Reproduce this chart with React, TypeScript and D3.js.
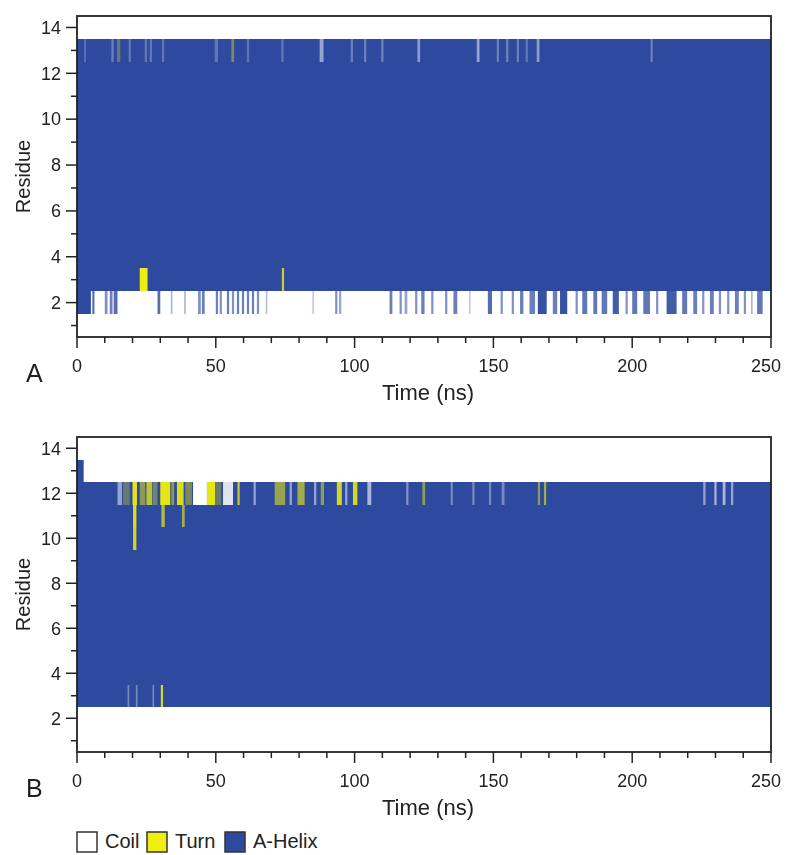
import * as d3 from 'd3';

// secondary structure codes: C = coil, T = turn, H = alpha helix
const residues = [1, 2, 3, 4, 5, 6, 7, 8, 9, 10, 11, 12, 13, 14];
const timeTicks = [0, 50, 100, 150, 200, 250];
const timeMinorTicks = [10, 20, 30, 40, 60, 70, 80, 90, 110, 120, 130, 140, 160, 170, 180, 190, 210, 220, 230, 240];
const residueTicks = [2, 4, 6, 8, 10, 12, 14];
const residueMinorTicks = [1, 3, 5, 7, 9, 11, 13];

const legendLabels = ['Coil', 'Turn', 'A-Helix'];
const legendStates = ['C', 'T', 'H'];

// dominant state of each residue (1..14) over the run
const baseStateA = ['C', 'C', 'H', 'H', 'H', 'H', 'H', 'H', 'H', 'H', 'H', 'H', 'H', 'C'];
const baseStateB = ['C', 'C', 'H', 'H', 'H', 'H', 'H', 'H', 'H', 'H', 'H', 'H', 'C', 'C'];

// [residue, start ns, end ns, state, fraction of frames]
type Stripe = [number, number, number, string, number];

const stripesA: Stripe[] = [
    [2, 0, 5, 'H', 1], [2, 5.5, 6.3, 'H', 0.8], [2, 10, 11, 'H', 0.6], [2, 11.8, 12.8, 'H', 0.7],
    [2, 13.2, 14.6, 'H', 0.8], [2, 29, 30, 'H', 0.8], [2, 33.8, 34.4, 'H', 0.4], [2, 38.6, 39.2, 'H', 0.4],
    [2, 43.6, 44.6, 'H', 0.6], [2, 45, 46, 'H', 0.7], [2, 50, 50.8, 'H', 0.7], [2, 51.4, 52.2, 'H', 0.6],
    [2, 54, 54.8, 'H', 0.7], [2, 55.8, 56.6, 'H', 0.6], [2, 57.6, 58.4, 'H', 0.7], [2, 59.4, 60.2, 'H', 0.7],
    [2, 61.2, 62, 'H', 0.7], [2, 63, 63.8, 'H', 0.7], [2, 64.8, 65.6, 'H', 0.6], [2, 68, 68.6, 'H', 0.35],
    [2, 84.8, 85.4, 'H', 0.3], [2, 93, 93.8, 'H', 0.6], [2, 94.4, 95.2, 'H', 0.5], [2, 112.6, 113.6, 'H', 0.7],
    [2, 116.2, 117, 'H', 0.6], [2, 118, 119, 'H', 0.5], [2, 121.8, 122.6, 'H', 0.6], [2, 124, 125.2, 'H', 0.7],
    [2, 127.6, 128.4, 'H', 0.6], [2, 132.6, 133.4, 'H', 0.6], [2, 135.6, 137, 'H', 0.7], [2, 141.2, 141.8, 'H', 0.3],
    [2, 148, 149.5, 'H', 0.8], [2, 152.6, 153.4, 'H', 0.6], [2, 156.6, 157.4, 'H', 0.6], [2, 159.6, 160.8, 'H', 0.7],
    [2, 163, 165, 'H', 0.7], [2, 166, 169.2, 'H', 0.95], [2, 171.4, 173, 'H', 0.7], [2, 174, 176.6, 'H', 0.95],
    [2, 179.6, 180.4, 'H', 0.6], [2, 182, 183.8, 'H', 0.75], [2, 186, 187.4, 'H', 0.75], [2, 189, 191, 'H', 0.75],
    [2, 193, 195.2, 'H', 0.9], [2, 197.6, 198.4, 'H', 0.6], [2, 200, 201.8, 'H', 0.75], [2, 204, 206.4, 'H', 0.75],
    [2, 208.6, 209.4, 'H', 0.6], [2, 212.4, 216, 'H', 0.9], [2, 218, 219.8, 'H', 0.75], [2, 222, 223.4, 'H', 0.7],
    [2, 225.2, 226, 'H', 0.6], [2, 228, 229.4, 'H', 0.7], [2, 231.2, 232, 'H', 0.6], [2, 234.2, 235, 'H', 0.6],
    [2, 237, 238.4, 'H', 0.7], [2, 240.2, 241, 'H', 0.6], [2, 242.8, 243.4, 'H', 0.4], [2, 245, 247, 'H', 0.75],
    [3, 22.6, 25.4, 'T', 1], [3, 73.8, 74.6, 'T', 0.8],
    [13, 2.6, 3.2, 'C', 0.25], [13, 12.4, 13.2, 'C', 0.3], [13, 14.4, 15.6, 'T', 0.3], [13, 18.6, 19.4, 'C', 0.25],
    [13, 24.4, 25.2, 'C', 0.25], [13, 26.2, 27, 'C', 0.25], [13, 30.6, 31.4, 'C', 0.25], [13, 49.6, 50.8, 'C', 0.25],
    [13, 55.6, 56.6, 'T', 0.4], [13, 61.2, 62, 'C', 0.25], [13, 73.6, 74.4, 'C', 0.25], [13, 87.4, 88.8, 'C', 0.5],
    [13, 98.6, 99.4, 'C', 0.3], [13, 103.4, 104.2, 'C', 0.3], [13, 109.6, 110.4, 'C', 0.3], [13, 122.6, 123.6, 'C', 0.45],
    [13, 144, 145, 'C', 0.5], [13, 151.2, 152, 'C', 0.3], [13, 154.6, 155.4, 'C', 0.3], [13, 158.4, 159.2, 'C', 0.3],
    [13, 161.6, 162.4, 'C', 0.25], [13, 165.6, 166.6, 'C', 0.45], [13, 206.6, 207.4, 'C', 0.3]
];

const stripesB: Stripe[] = [
    [13, 0, 2.4, 'H', 1],
    [12, 14.6, 16.2, 'C', 0.5], [12, 16.6, 19, 'T', 0.3], [12, 20, 21.6, 'T', 0.95], [12, 22.6, 24.6, 'T', 0.5],
    [12, 25, 27, 'T', 0.75], [12, 27.2, 29, 'T', 0.35], [12, 30, 33.6, 'T', 0.95], [12, 34, 35, 'T', 0.5],
    [12, 36, 38.4, 'T', 0.9], [12, 39, 41.4, 'T', 0.4], [12, 41.8, 46.8, 'C', 1], [12, 46.8, 49.8, 'T', 0.95],
    [12, 50, 52, 'T', 0.3], [12, 52.6, 56.2, 'C', 0.85], [12, 57.8, 58.6, 'T', 0.8], [12, 63.6, 64.4, 'C', 0.5],
    [12, 71.2, 75, 'T', 0.55], [12, 76.6, 77.4, 'C', 0.5], [12, 79.4, 82, 'T', 0.6], [12, 85.4, 86.2, 'C', 0.5],
    [12, 87.8, 89, 'T', 0.5], [12, 93.6, 95.4, 'T', 0.85], [12, 96.6, 97.4, 'C', 0.5], [12, 99.4, 101, 'T', 0.85],
    [12, 104.6, 106, 'C', 0.6], [12, 118.6, 119.4, 'C', 0.4], [12, 124.4, 125.4, 'T', 0.5], [12, 134.6, 135.4, 'C', 0.35],
    [12, 142.4, 143.2, 'C', 0.35], [12, 148.4, 149.2, 'C', 0.35], [12, 153, 154, 'C', 0.35], [12, 166, 166.8, 'T', 0.5],
    [12, 168.2, 169, 'T', 0.6], [12, 225.6, 226.4, 'C', 0.5], [12, 229.6, 230.4, 'C', 0.6], [12, 232.6, 233.6, 'C', 0.6],
    [12, 235.6, 236.4, 'C', 0.5],
    [11, 20.2, 21.4, 'T', 0.9], [10, 20.2, 21.4, 'T', 0.85], [11, 30.4, 31.6, 'T', 0.7], [11, 37.8, 38.8, 'T', 0.6],
    [3, 18.2, 18.8, 'C', 0.35], [3, 21.2, 21.8, 'C', 0.35], [3, 27.2, 27.8, 'C', 0.35], [3, 30.2, 31, 'T', 0.85]
];

const stateColor: Record<string, string> = { C: '#ffffff', T: '#f0ee10', H: '#2d4a9e' };
const font = '"Liberation Sans", Arial, sans-serif';
const ink = '#222';

const left = 77;
const right = 771;
const x = d3.scaleLinear().domain([0, 250]).range([left, right]);
const legendX = d3.scaleOrdinal<string, number>().domain(legendLabels).range([77, 147, 225]);

function Panel({ top, bottom, base, stripes, letter }: {
    top: number; bottom: number; base: string[]; stripes: Stripe[]; letter: string;
}) {
    const y = d3.scaleLinear().domain([0.5, 14.5]).range([bottom, top]);

    return (
        <g>
            {/* rows of the dominant state */}
            <g shapeRendering="crispEdges">
                {residues.map(r => (
                    <rect key={`row${r}`} x={x(0)} width={x(250) - x(0)}
                        y={Math.round(y(r + 0.5))} height={Math.round(y(r - 0.5)) - Math.round(y(r + 0.5))}
                        fill={stateColor[base[r - 1]]} />
                ))}
            </g>
            {/* short excursions from it */}
            <g filter="url(#soft)">
                {stripes.map((d, i) => (
                    <rect key={`s${i}`} x={x(d[1])} width={Math.max(x(d[2]) - x(d[1]), 1.2)}
                        y={Math.round(y(d[0] + 0.5))} height={Math.round(y(d[0] - 0.5)) - Math.round(y(d[0] + 0.5))}
                        fill={stateColor[d[3]]} opacity={d[4]} />
                ))}
            </g>

            {/* left axis */}
            {residueTicks.map(t => (
                <g key={`yt${t}`}>
                    <line x1={left - 11} x2={left} y1={y(t)} y2={y(t)} stroke={ink} strokeWidth={1.5} />
                    <text x={left - 16} y={y(t)} dy="0.35em" textAnchor="end"
                        fontFamily={font} fontSize={18} fill={ink}>{t}</text>
                </g>
            ))}
            {residueMinorTicks.map(t => (
                <line key={`ym${t}`} x1={left - 6} x2={left} y1={y(t)} y2={y(t)} stroke={ink} strokeWidth={1.5} />
            ))}

            {/* bottom axis */}
            {timeTicks.map(t => (
                <g key={`xt${t}`}>
                    <line x1={x(t)} x2={x(t)} y1={bottom} y2={bottom + 11} stroke={ink} strokeWidth={1.5} />
                    <text x={x(t) - (t === 250 ? 5 : 0)} y={bottom + 35} textAnchor="middle"
                        fontFamily={font} fontSize={18} fill={ink}>{t}</text>
                </g>
            ))}
            {timeMinorTicks.map(t => (
                <line key={`xm${t}`} x1={x(t)} x2={x(t)} y1={bottom} y2={bottom + 6} stroke={ink} strokeWidth={1.5} />
            ))}

            {/* frame */}
            <rect x={left} y={top} width={right - left} height={bottom - top}
                fill="none" stroke={ink} strokeWidth={1.8} />

            <text transform={`translate(23,${(top + bottom) / 2}) rotate(-90)`} textAnchor="middle" dy="0.35em"
                fontFamily={font} fontSize={20} fill={ink}>Residue</text>
            <text x={(left + right) / 2 + 4} y={bottom + 63} textAnchor="middle"
                fontFamily={font} fontSize={22} fill={ink}>Time (ns)</text>
            <text x={26} y={bottom + 45} fontFamily={font} fontSize={25} fill={ink}>{letter}</text>
        </g>
    );
}

export default function App() {
    return (
        <svg width={787} height={855}
            style={{ position: 'absolute', top: 0, left: 0, background: '#fff', display: 'block' }}>
            <defs>
                <filter id="soft" x="-2%" y="-20%" width="104%" height="140%">
                    <feGaussianBlur stdDeviation="0.6 0.4" />
                </filter>
            </defs>
            <Panel top={16} bottom={337} base={baseStateA} stripes={stripesA} letter="A" />
            <Panel top={437} bottom={752} base={baseStateB} stripes={stripesB} letter="B" />

            {legendLabels.map((d, i) => (
                <g key={d} transform={`translate(${legendX(d)},832)`}>
                    <rect width={20} height={20} fill={stateColor[legendStates[i]]} stroke="#333" strokeWidth={1.5} />
                    <text x={28} y={16} fontFamily={font} fontSize={20} fill={ink}>{d}</text>
                </g>
            ))}
        </svg>
    );
}
